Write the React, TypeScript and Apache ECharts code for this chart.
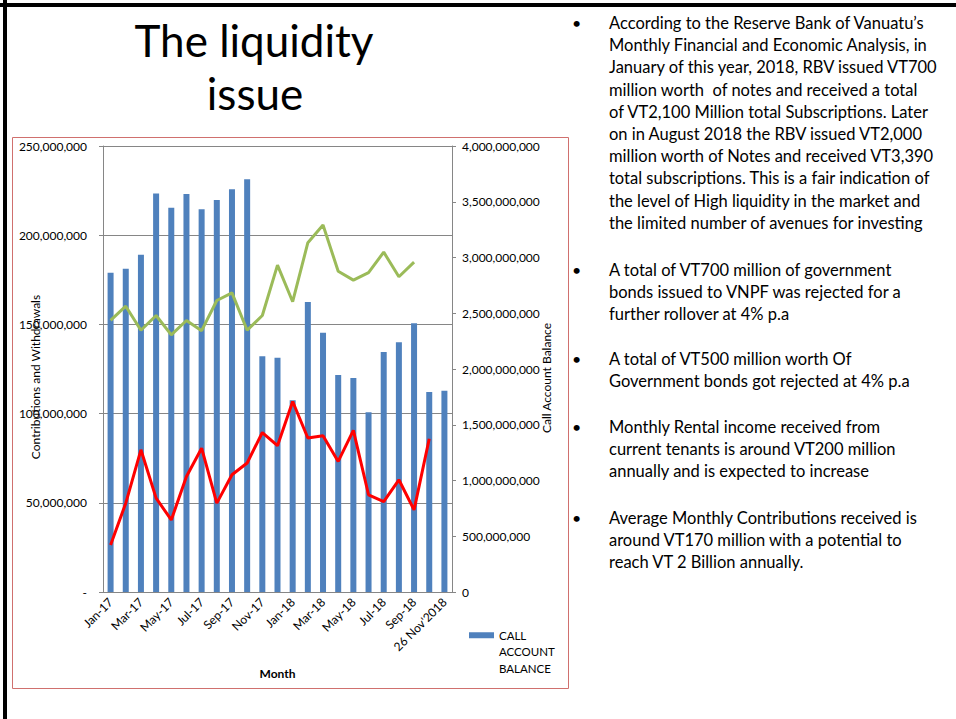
import React, { useEffect, useRef } from 'react';
import * as echarts from 'echarts';

const categories = [
  'Jan-17', 'Feb-17', 'Mar-17', 'Apr-17', 'May-17', 'Jun-17', 'Jul-17', 'Aug-17',
  'Sep-17', 'Oct-17', 'Nov-17', 'Dec-17', 'Jan-18', 'Feb-18', 'Mar-18', 'Apr-18',
  'May-18', 'Jun-18', 'Jul-18', 'Aug-18', 'Sep-18', 'Oct-18', "26 Nov'2018",
];

const callAccountBalance = [
  2863000000, 2899000000, 3025000000, 3573000000, 3447000000, 3570000000, 3432000000,
  3516000000, 3612000000, 3702000000, 2114000000, 2102000000, 1720000000, 2601000000,
  2324000000, 1947000000, 1920000000, 1611000000, 2153000000, 2240000000, 2411000000,
  1794000000, 1806000000,
];

const contributions = [
  152300000, 160200000, 146700000, 155000000, 144100000, 152200000, 146500000,
  163400000, 167700000, 146700000, 155000000, 183200000, 162700000, 195800000,
  205700000, 179800000, 174800000, 179000000, 190500000, 176700000, 184900000,
  null, null,
];

const withdrawals = [
  26400000, 49800000, 79700000, 52600000, 40400000, 64700000, 80600000,
  49800000, 65700000, 72300000, 89400000, 82000000, 106800000, 86300000,
  87600000, 73200000, 90600000, 54500000, 50700000, 62900000, 46000000,
  85900000, null,
];

const titleLines = ['The liquidity', 'issue'];

const bullets = [
  [
    'According to the Reserve Bank of Vanuatu\u2019s',
    'Monthly Financial and Economic Analysis, in',
    'January of this year, 2018, RBV issued VT700',
    'million worth  of notes and received a total',
    'of VT2,100 Million total Subscriptions. Later',
    'on in August 2018 the RBV issued VT2,000',
    'million worth of Notes and received VT3,390',
    'total subscriptions. This is a fair indication of',
    'the level of High liquidity in the market and',
    'the limited number of avenues for investing',
  ],
  [
    'A total of VT700 million of government',
    'bonds issued to VNPF was rejected for a',
    'further rollover at 4% p.a',
  ],
  [
    'A total of VT500 million worth Of',
    'Government bonds got rejected at 4% p.a',
  ],
  [
    'Monthly Rental income received from',
    'current tenants is around VT200 million',
    'annually and is expected to increase',
  ],
  [
    'Average Monthly Contributions received is',
    'around VT170 million with a potential to',
    'reach VT 2 Billion annually.',
  ],
];

const bulletCenters = [23, 270, 359, 427, 518];

export default function App() {
  const ref = useRef<HTMLDivElement>(null);

  useEffect(() => {
    const chart = echarts.init(ref.current!, null, { renderer: 'svg' });
    const font = 'Lato';
    const lineH = 22.2;
    const gray = '#868686';
    const fmtLeft = (v: number) => (v === 0 ? '-' : v.toLocaleString('en-US'));
    const fmtRight = (v: number) => v.toLocaleString('en-US');

    const graphic: any[] = [
      { type: 'rect', shape: { x: 0, y: 3, width: 956, height: 4 }, style: { fill: '#000' }, silent: true },
      { type: 'rect', shape: { x: 3, y: 0, width: 4, height: 719 }, style: { fill: '#000' }, silent: true },
      {
        type: 'rect',
        shape: { x: 12.5, y: 137.5, width: 556, height: 551 },
        style: { fill: 'none', stroke: '#D0706E', lineWidth: 1 },
        silent: true,
      },
      {
        type: 'text', x: 254, y: 40,
        style: { text: titleLines[0], fontSize: 44, fontFamily: font, fill: '#000', align: 'center', verticalAlign: 'middle' },
      },
      {
        type: 'text', x: 255, y: 93,
        style: { text: titleLines[1], fontSize: 44, fontFamily: font, fill: '#000', align: 'center', verticalAlign: 'middle' },
      },
    ];

    bullets.forEach((lines, i) => {
      const top = bulletCenters[i] - lineH / 2;
      graphic.push({
        type: 'text', x: 572, y: top,
        style: { text: '\u2022', fontSize: 16, lineHeight: lineH, fontFamily: font, fill: '#000', verticalAlign: 'top' },
      });
      graphic.push({
        type: 'text', x: 609, y: top,
        style: { text: lines.join('\n'), fontSize: 16.5, lineHeight: lineH, fontFamily: font, fill: '#000', verticalAlign: 'top' },
      });
    });

    const option: any = {
      animation: false,
      backgroundColor: '#fff',
      textStyle: { fontFamily: font },
      grid: { left: 103, right: 504, top: 146, bottom: 127 },
      legend: {
        data: ['CALL ACCOUNT BALANCE'],
        left: 469,
        top: 594,
        padding: 0,
        itemWidth: 25,
        itemHeight: 6,
        itemGap: 4,
        icon: 'rect',
        formatter: (n: string) => '\n\n' + n.split(' ').join('\n'),
        textStyle: { fontSize: 11.5, lineHeight: 16.5, color: '#000' },
      },
      xAxis: {
        type: 'category',
        data: categories,
        name: 'Month',
        nameLocation: 'middle',
        nameGap: 75,
        nameMoveOverlap: false,
        nameTextStyle: { fontSize: 12, fontWeight: 'bold', color: '#000' },
        axisLine: { lineStyle: { color: gray } },
        axisTick: { lineStyle: { color: gray }, length: 4 },
        axisLabel: { rotate: 45, interval: 1, fontSize: 12, color: '#000', margin: 8 },
      },
      yAxis: [
        {
          type: 'value',
          min: 0,
          max: 250000000,
          interval: 50000000,
          position: 'left',
          name: 'Contributions and Withdrawals',
          nameLocation: 'middle',
          nameRotate: 90,
          nameGap: 62,
          nameMoveOverlap: false,
          nameTextStyle: { fontSize: 12, color: '#000', padding: [0, 16, 0, 0] },
          axisLine: { show: true, lineStyle: { color: gray } },
          axisTick: { show: true, length: 4, lineStyle: { color: gray } },
          axisLabel: { formatter: fmtLeft, fontSize: 12, color: '#000', margin: 16 },
          splitLine: { show: true, lineStyle: { color: gray, width: 1 } },
        },
        {
          type: 'value',
          min: 0,
          max: 4000000000,
          interval: 500000000,
          position: 'right',
          name: 'Call Account Balance',
          nameLocation: 'middle',
          nameRotate: 90,
          nameGap: 88,
          nameMoveOverlap: false,
          nameTextStyle: { fontSize: 12, color: '#000', padding: [0, 18, 0, 0] },
          axisLine: { show: true, lineStyle: { color: gray } },
          axisTick: { show: true, length: 4, lineStyle: { color: gray } },
          axisLabel: { formatter: fmtRight, fontSize: 12, color: '#000', margin: 10 },
          splitLine: { show: false },
        },
      ],
      series: [
        {
          name: 'CALL ACCOUNT BALANCE',
          type: 'bar',
          yAxisIndex: 1,
          data: callAccountBalance,
          barWidth: 6,
          itemStyle: { color: '#4F81BD' },
        },
        {
          name: 'Contributions',
          type: 'line',
          yAxisIndex: 0,
          data: contributions,
          symbol: 'none',
          lineStyle: { color: '#9BBB59', width: 3 },
          itemStyle: { color: '#9BBB59' },
        },
        {
          name: 'Withdrawals',
          type: 'line',
          yAxisIndex: 0,
          data: withdrawals,
          symbol: 'none',
          lineStyle: { color: '#FF0000', width: 3 },
          itemStyle: { color: '#FF0000' },
        },
      ],
      graphic,
    };

    chart.setOption(option);
    return () => chart.dispose();
  }, []);

  return (
    <div
      ref={ref}
      style={{ position: 'absolute', left: 0, top: 0, width: 956, height: 719, background: '#fff' }}
    />
  );
}
